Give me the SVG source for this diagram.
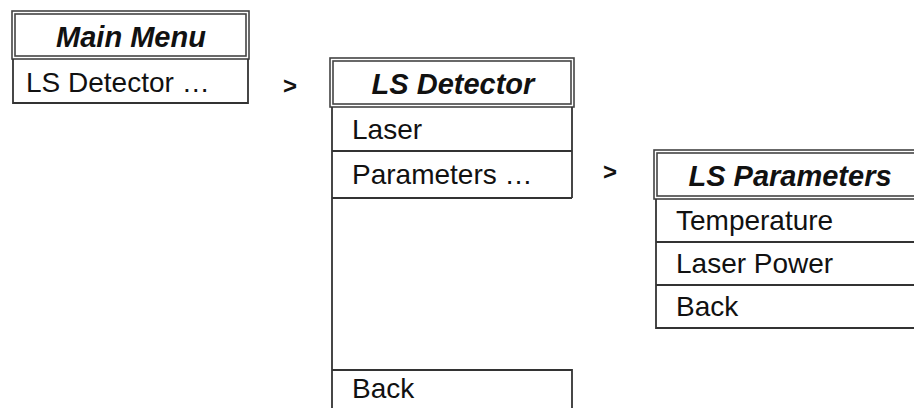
<svg xmlns="http://www.w3.org/2000/svg" width="914" height="408" viewBox="0 0 914 408">
<style>
  .bg{fill:#fff}
  .frame{fill:none;stroke:#444;stroke-width:1.6}
  .line{fill:none;stroke:#333;stroke-width:1.8}
  .title{font-family:"Liberation Sans",Arial,sans-serif;font-size:29px;font-weight:bold;font-style:italic;fill:#111;text-anchor:middle}
  .item{font-family:"Liberation Sans",Arial,sans-serif;font-size:28px;fill:#111}
  .gt{font-family:"Liberation Sans",Arial,sans-serif;font-size:24px;font-weight:bold;fill:#111}
</style>
<rect class="bg" width="914" height="408"/>
<g id="main-menu">
  <rect class="frame" x="12" y="11" width="237" height="48"/>
  <rect class="frame" x="15" y="14" width="231" height="42"/>
  <path class="line" d="M13 59 V103 H248 V59"/>
  <text class="title" x="131" y="47">Main Menu</text>
  <text class="item" x="26" y="92">LS Detector …</text>
</g>
<g id="ls-detector">
  <rect class="frame" x="330" y="58" width="244" height="49"/>
  <rect class="frame" x="333" y="61" width="238" height="43"/>
  <path class="line" d="M332 107 V408 M572 107 V198 M332 151 H572 M332 198 H572 M332 370 H572 V408"/>
  <text class="title" x="453" y="94">LS Detector</text>
  <text class="item" x="352" y="139">Laser</text>
  <text class="item" x="352" y="184">Parameters …</text>
  <text class="item" x="352" y="398">Back</text>
</g>
<g id="ls-parameters">
  <rect class="frame" x="654" y="150" width="270" height="49"/>
  <rect class="frame" x="657" y="153" width="264" height="43"/>
  <path class="line" d="M656 199 V328 H914 M656 242 H914 M656 285 H914"/>
  <text class="title" x="790" y="186">LS Parameters</text>
  <text class="item" x="676" y="230">Temperature</text>
  <text class="item" x="676" y="273">Laser Power</text>
  <text class="item" x="676" y="316">Back</text>
</g>
<g id="connectors">
  <text class="gt" x="283" y="94">&gt;</text>
  <text class="gt" x="603" y="180">&gt;</text>
</g>
</svg>
